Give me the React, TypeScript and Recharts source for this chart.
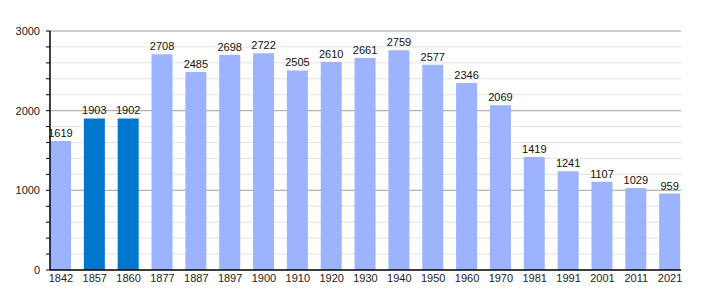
import React from "react";
import { BarChart, Bar, XAxis, YAxis, CartesianGrid, Cell, LabelList } from "recharts";

const years = [
    "1842", "1857", "1860", "1877", "1887", "1897", "1900", "1910", "1920", "1930",
    "1940", "1950", "1960", "1970", "1981", "1991", "2001", "2011", "2021",
];
const population = [
    1619, 1903, 1902, 2708, 2485, 2698, 2722, 2505, 2610, 2661,
    2759, 2577, 2346, 2069, 1419, 1241, 1107, 1029, 959,
];
const highlightedYears = ["1857", "1860"];
const yTicks = [0, 200, 400, 600, 800, 1000, 1200, 1400, 1600, 1800, 2000, 2200, 2400, 2600, 2800, 3000];
const majorTicks = [1000, 2000, 3000];
const yMax = 3000;

const FONT = "'Liberation Sans', Arial, sans-serif";

// only the thousands get a label, the rest are just tick marks
const YTick = (props: any) => {
    const { x, y, payload } = props;
    if (payload.value % 1000 !== 0) return <g />;
    return (
        <text x={x} y={y} dy="0.355em" textAnchor="end" fontSize={11} fill="#222" fontFamily={FONT}>
            {payload.value}
        </text>
    );
};

// darker lines at the thousands, placed with the y scale (or the plot offset as fallback)
const majorGridCoords = ({ yAxis, offset }: any) => {
    if (yAxis && typeof yAxis.scale === "function") return majorTicks.map((v) => yAxis.scale(v));
    return majorTicks.map((v) => offset.top + offset.height * (1 - v / yMax));
};

const App: React.FC = () => {
    const data = years.map((year, i) => ({ year, value: population[i] }));

    return (
        <div style={{ width: 700, height: 290, fontFamily: FONT }}>
            <BarChart
                width={700}
                height={290}
                data={data}
                margin={{ top: 23, right: 27, left: 0, bottom: 0 }}
            >
                <CartesianGrid vertical={false} stroke="#e2e2e2" strokeWidth={1} />
                <CartesianGrid
                    vertical={false}
                    stroke="#a8a8a8"
                    strokeWidth={1}
                    horizontalCoordinatesGenerator={majorGridCoords}
                />
                <XAxis
                    dataKey="year"
                    padding={{ left: -6, right: -6 }}
                    axisLine={{ stroke: "#000", strokeWidth: 1.5 }}
                    tickLine={false}
                    tickSize={0}
                    tickMargin={4}
                    height={28}
                    interval={0}
                    tick={{ fontSize: 11, fill: "#222", fontFamily: FONT }}
                />
                <YAxis
                    width={42}
                    domain={[0, yMax]}
                    ticks={yTicks}
                    interval={0}
                    axisLine={{ stroke: "#000", strokeWidth: 1.5 }}
                    tickLine={{ stroke: "#000" }}
                    tickSize={4}
                    tickMargin={6}
                    tick={<YTick />}
                />
                <Bar dataKey="value" barSize={21} isAnimationActive={false}>
                    {data.map((d) => (
                        <Cell
                            key={d.year}
                            fill={highlightedYears.includes(d.year) ? "#0077cc" : "#9bb4fd"}
                        />
                    ))}
                    <LabelList
                        dataKey="value"
                        position="top"
                        offset={4}
                        fontSize={11}
                        fill="#111"
                        fontFamily={FONT}
                    />
                </Bar>
            </BarChart>
        </div>
    );
};

export default App;
